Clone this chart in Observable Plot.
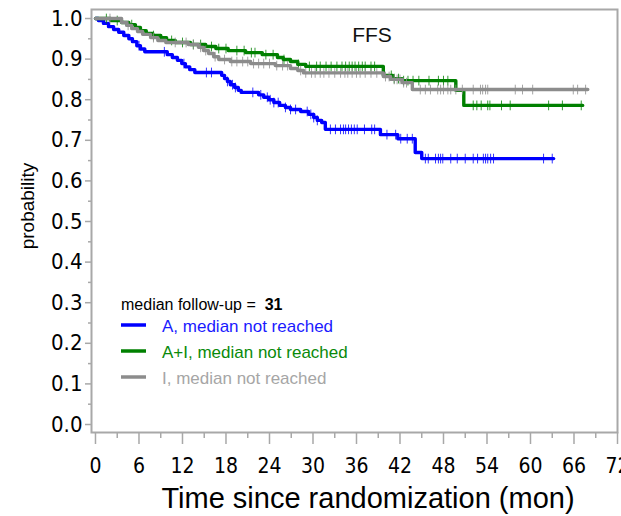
<!DOCTYPE html>
<html><head><meta charset="utf-8">
<script src="https://cdn.jsdelivr.net/npm/d3@7"></script>
<script src="https://cdn.jsdelivr.net/npm/@observablehq/plot@0.6"></script>
<style>body{margin:0;background:#fff} svg{display:block}</style>
</head><body><div id="chart"></div>
<script>
// ---- data ----
const groups = ["A", "A+I", "I"];
const groupColors = ["#0000ff", "#008000", "#8c8c8c"];
const legendTexts = ["A, median not reached", "A+I, median not reached", "I, median not reached"];
const legendTextColors = ["#1a1aff", "#0a8a0a", "#a6a6a6"];
const medianFollowUp = 31;
const panelTitle = "FFS";
const xTicks = [0, 6, 12, 18, 24, 30, 36, 42, 48, 54, 60, 66, 72];
const yTicks = [0, 0.1, 0.2, 0.3, 0.4, 0.5, 0.6, 0.7, 0.8, 0.9, 1.0];

// [time (months), survival after the step]
const stepsA = [[0.4,0.995],[1.1,0.988],[1.8,0.980],[2.5,0.973],[3.2,0.966],[3.9,0.958],[4.6,0.950],[5.1,0.943],[5.7,0.933],[6.2,0.925],[6.8,0.918],
  [9.9,0.911],[10.6,0.904],[11.3,0.897],[11.9,0.889],[12.4,0.881],[13.0,0.874],[13.7,0.867],
  [17.4,0.860],[17.8,0.852],[18.2,0.845],[18.6,0.837],[19.2,0.830],[19.7,0.823],[20.1,0.818],
  [22.5,0.812],[23.2,0.806],[23.9,0.800],[24.6,0.793],[25.4,0.786],[26.2,0.781],[26.9,0.776],[28.3,0.771],
  [29.4,0.764],[30.1,0.756],[30.6,0.749],[31.2,0.744],[31.7,0.727],[39.3,0.714],[41.7,0.704],[44.1,0.670],[45.0,0.655]];
const endA = 63.2;
const censorA = [6.0,9.5,12.2,15.3,16.0,18.2,18.9,19.3,21.7,22.8,23.7,24.1,24.6,25.2,26.2,26.9,27.6,29.2,29.7,30.1,30.6,
  32.4,33.1,33.8,34.2,34.5,34.9,35.3,35.7,36.1,37.1,38.1,38.5,40.2,41.4,42.1,43.0,43.7,45.5,45.9,46.9,47.3,47.6,47.9,
  49.0,49.9,51.0,52.1,52.7,53.5,53.8,54.1,54.5,54.9,61.8,63.0];

const stepsAI = [[2.1,0.995],[3.6,0.990],[4.6,0.985],[5.5,0.978],[6.2,0.970],[7.0,0.963],[7.9,0.958],[9.0,0.953],[9.8,0.946],
  [11.0,0.941],[13.1,0.936],[15.2,0.931],[16.6,0.926],[18.3,0.921],[20.7,0.916],[23.0,0.911],[25.1,0.904],[25.9,0.899],
  [26.9,0.894],[27.9,0.887],[29.0,0.882],[39.7,0.860],[41.0,0.852],[42.3,0.847],[49.7,0.823],[50.8,0.786]];
const endAI = 67.2;
const censorAI = [1.5,3.0,5.0,8.0,10.5,12.0,13.5,14.5,16.0,17.0,18.0,19.5,20.5,21.5,22.0,23.5,24.5,26.0,28.0,29.5,30.5,31.0,
  31.8,32.5,33.3,34.0,34.5,35.0,35.4,35.8,36.3,36.8,37.2,38.0,38.5,40.8,41.2,41.8,42.5,43.1,43.8,44.6,46.0,47.3,48.0,48.6,
  52.1,52.6,53.2,54.1,54.4,56.0,57.2,62.5,64.4,67.0];

const stepsI = [[3.6,0.990],[4.3,0.983],[5.0,0.975],[5.8,0.968],[6.5,0.961],[7.6,0.953],[8.6,0.946],[9.7,0.941],[12.8,0.936],
  [14.2,0.929],[14.9,0.921],[15.6,0.914],[16.3,0.906],[17.0,0.899],[18.6,0.894],[21.4,0.889],[24.8,0.884],[26.9,0.877],
  [27.9,0.872],[28.7,0.866],[39.7,0.857],[40.7,0.850],[42.3,0.842],[43.7,0.825]];
const endI = 67.9;
const censorI = [2.0,4.5,8.0,11.0,12.5,13.5,14.5,15.2,16.5,17.8,18.8,19.5,20.3,21.0,21.8,22.5,23.2,24.0,25.0,25.8,26.5,28.3,
  29.0,29.8,30.3,31.0,31.5,32.2,33.0,33.8,34.4,34.8,35.4,36.0,36.5,37.2,38.0,38.8,40.0,40.5,41.2,41.6,42.0,42.5,42.9,44.8,
  45.5,46.2,47.2,47.6,48.0,48.6,49.0,49.7,50.6,52.1,53.1,53.4,53.8,54.1,57.9,58.9,60.3,65.9,66.5,67.6];

// ---- build tables ----
const allSteps = [stepsA, stepsAI, stepsI];
const allEnds = [endA, endAI, endI];
const allCensors = [censorA, censorAI, censorI];
function survAt(steps, t) { let p = 1; for (const [st, sp] of steps) if (st <= t) p = sp; return p; }
const curves = groups.map((g, i) => {
  const s = allSteps[i];
  return [{t: 0, p: 1}, ...s.map(([t, p]) => ({t, p})), {t: allEnds[i], p: s[s.length - 1][1]}];
});
const censors = groups.map((g, i) => allCensors[i].map(t => ({t, p: survAt(allSteps[i], t)})));

const narrow = "'Liberation Sans Narrow','Arial Narrow','DejaVu Sans Condensed',sans-serif";
const axisGrey = "#a8a8a8";
const marks = [
  Plot.frame({stroke: axisGrey, strokeWidth: 2}),
  Plot.axisY(yTicks, {tickSize: 6, tickPadding: 3, tickFormat: d3.format(".1f"), fontSize: 22, fontFamily: narrow, stroke: axisGrey, strokeWidth: 1.5, fill: "#000", label: null}),
  Plot.axisY(d3.range(0.05, 1, 0.1), {tickSize: 3, tickFormat: () => "", stroke: axisGrey, strokeWidth: 1.5, label: null}),
  Plot.axisX(xTicks, {tickSize: 12, tickPadding: 14, fontSize: 21, fontFamily: narrow, stroke: axisGrey, strokeWidth: 1.5, fill: "#000", label: null}),
  Plot.axisX(d3.range(3, 72, 6), {tickSize: 6, tickFormat: () => "", stroke: axisGrey, strokeWidth: 1.5, label: null})
];
groups.forEach((g, i) => {
  marks.push(Plot.link(censors[i], {x1: "t", x2: "t", y1: d => d.p - 0.012, y2: d => d.p + 0.012, stroke: groupColors[i], strokeWidth: 1, strokeOpacity: 0.8}));
  marks.push(Plot.line(curves[i], {x: "t", y: "p", curve: "step-after", stroke: groupColors[i], strokeWidth: 3.4}));
});

const chart = Plot.plot({
  width: 621, height: 516,
  marginLeft: 91, marginRight: 4, marginTop: 9, marginBottom: 84,
  x: {domain: [-0.55, 72]},
  y: {domain: [-0.0197, 1.0222]},
  style: {background: "white", fontFamily: "'Liberation Sans',Arial,sans-serif"},
  marks
});
document.getElementById("chart").appendChild(chart);

// ---- annotations & legend ----
const svg = d3.select(chart);
const font = "'Liberation Sans',Arial,sans-serif";
svg.append("text").attr("x", 372).attr("y", 42).attr("text-anchor", "middle")
  .style("font-family", font).style("font-size", "21px").attr("fill", "#111").text(panelTitle);
svg.append("text").attr("transform", "translate(34,206) rotate(-90)").attr("text-anchor", "middle")
  .style("font-family", font).style("font-size", "19px").attr("fill", "#000").text("probability");
svg.append("text").attr("x", 368).attr("y", 508).attr("text-anchor", "middle")
  .style("font-family", font).style("font-size", "29px").attr("fill", "#000").text("Time since randomization (mon)");
const lg = svg.append("g").style("font-family", font).attr("text-anchor", "start");
const hdr = lg.append("text").attr("x", 121).attr("y", 310).attr("text-anchor", "start").style("font-size", "16px").attr("fill", "#000");
hdr.append("tspan").text("median follow-up =  ");
hdr.append("tspan").attr("font-weight", "bold").text(String(medianFollowUp));
const rowY = [325, 351, 377];
groups.forEach((g, i) => {
  lg.append("line").attr("x1", 121).attr("x2", 146).attr("y1", rowY[i]).attr("y2", rowY[i])
    .attr("stroke", groupColors[i]).attr("stroke-width", 3.5);
  lg.append("text").attr("x", 162).attr("y", rowY[i] + 7).attr("text-anchor", "start").style("font-size", "17px")
    .attr("fill", legendTextColors[i]).text(legendTexts[i]);
});
</script></body></html>
